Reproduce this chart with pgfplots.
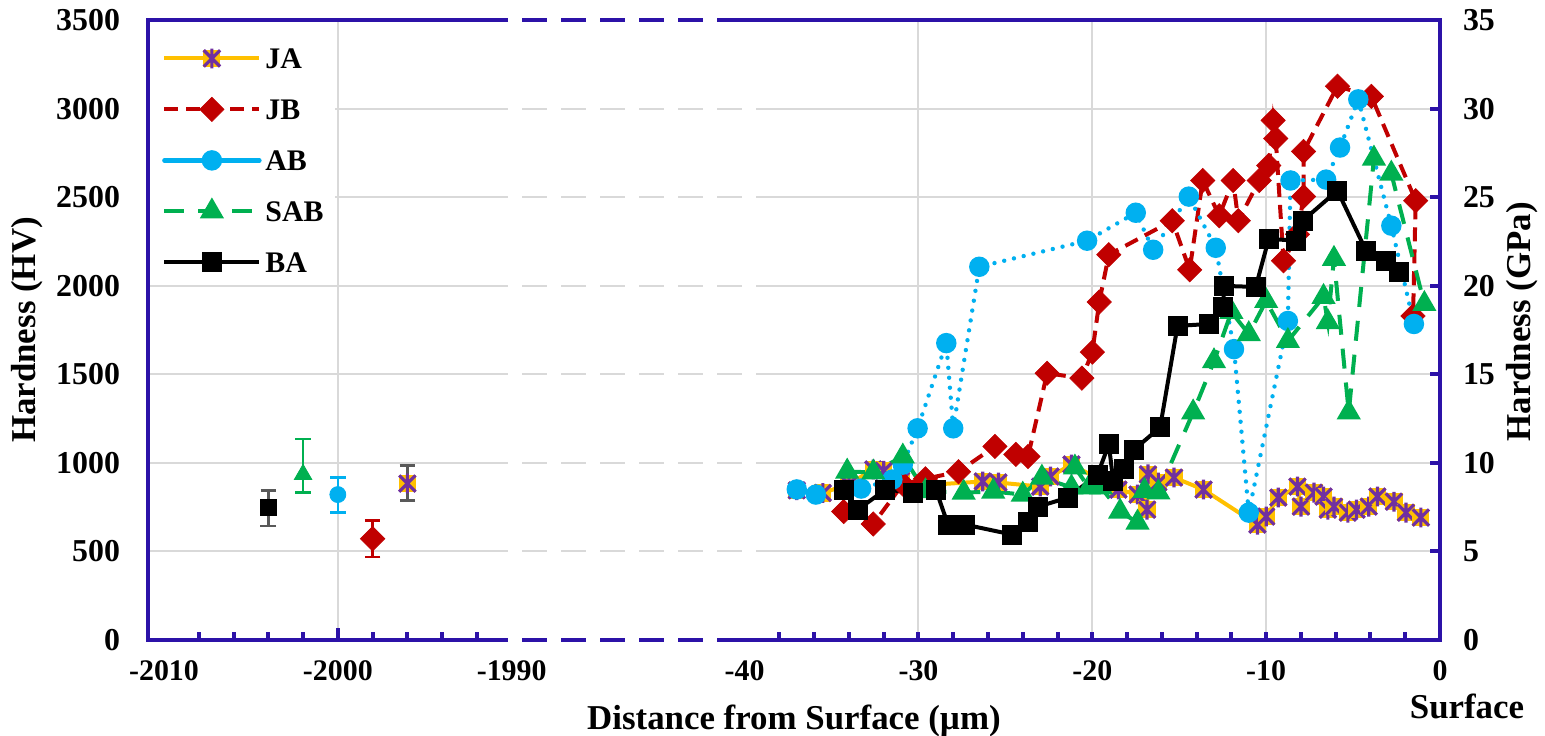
\documentclass[border=0pt]{standalone}
\usepackage{fontspec}
\setmainfont{Liberation Serif}
\usepackage{pgfplots}
\pgfplotsset{compat=1.18}
\definecolor{frameblue}{RGB}{44,18,168}
\definecolor{jayel}{RGB}{255,192,0}
\definecolor{japur}{RGB}{112,48,160}
\definecolor{jbred}{RGB}{192,0,0}
\definecolor{abblue}{RGB}{0,176,240}
\definecolor{sabgreen}{RGB}{0,176,80}
\definecolor{gridgray}{RGB}{217,217,217}
\definecolor{errgray}{RGB}{89,89,89}
\pgfdeclareplotmark{sqast}{%
 \pgfpathrectangle{\pgfqpoint{-\pgfplotmarksize}{-\pgfplotmarksize}}{\pgfqpoint{2\pgfplotmarksize}{2\pgfplotmarksize}}%
 \pgfsetfillcolor{jayel}\pgfusepathqfill
 \pgfsetstrokecolor{japur}\pgfsetlinewidth{1.6bp}%
 \pgfpathmoveto{\pgfqpoint{0pt}{-1.15\pgfplotmarksize}}\pgfpathlineto{\pgfqpoint{0pt}{1.15\pgfplotmarksize}}%
 \pgfpathmoveto{\pgfqpoint{-.95\pgfplotmarksize}{-.95\pgfplotmarksize}}\pgfpathlineto{\pgfqpoint{.95\pgfplotmarksize}{.95\pgfplotmarksize}}%
 \pgfpathmoveto{\pgfqpoint{-.95\pgfplotmarksize}{.95\pgfplotmarksize}}\pgfpathlineto{\pgfqpoint{.95\pgfplotmarksize}{-.95\pgfplotmarksize}}%
 \pgfusepathqstroke
}
\pgfplotsset{
 mylegimg/.style={legend image code/.code={\path[draw=none,fill=none] (0bp,-4bp) rectangle (47.5bp,4bp);
   \draw[mark repeat=2,mark phase=2,##1,overlay] plot coordinates {(0bp,0bp) (23.75bp,0bp) (47.5bp,0bp)};}},
 sollegimg/.style={legend image code/.code={\path[draw=none,fill=none] (0bp,-4bp) rectangle (47.5bp,4bp);
   \draw[mark repeat=2,mark phase=2,##1,solid,overlay] plot coordinates {(0bp,0bp) (23.75bp,0bp) (47.5bp,0bp)};}},
 leftpt/.style={forget plot, x filter/.expression={x+1936.6},
   error bars/.cd, y dir=both, y explicit,
   error bar style={line width=1.2bp, solid, color=#1},
   error mark options={rotate=90, mark size=3.9bp, line width=1.2bp, color=#1}},
}
\newcommand{\xtickfont}{\bfseries\fontsize{15}{16}\selectfont}
\newcommand{\ytickfont}{\bfseries\fontsize{16}{17}\selectfont}
\newcommand{\labfont}{\bfseries\fontsize{17.5}{20}\selectfont}
\begin{document}
\begin{tikzpicture}
\begin{axis}[
 at={(74bp,48bp)}, anchor=south west, scale only axis, width=646bp, height=310bp,
 xmin=-74.32, xmax=0, ymin=0, ymax=3500, clip=false,
 axis line style={draw=none},
 xtick={-73.4,-63.4,-53.4,-40,-30,-20,-10,0},
 xticklabels={-2010,-2000,-1990,-40,-30,-20,-10,0},
 ytick={0,500,...,3500},
 tick style={draw=none},
 /pgf/number format/assume math mode=true,
 /pgf/number format/1000 sep={},
 xticklabel style={font=\xtickfont, yshift=-7bp},
 yticklabel style={font=\ytickfont, xshift=-10.5bp},
 mylegimg,
 legend style={at={([yshift=-5bp]axis description cs:0,1)}, anchor=north west, draw=none, fill=none,
   font=\bfseries\fontsize{15}{15}\selectfont, inner xsep=8bp, inner ysep=8bp,
   row sep=13.5bp, cells={anchor=west},
   nodes={text height=10bp, text depth=0bp, inner ysep=1bp, inner xsep=3bp}},
 legend cell align=left,
]
% grid
\pgfplotsinvokeforeach{500,1000,1500,2000,2500,3000}{
 \draw[gridgray, line width=1bp] (axis cs:-74.32,#1) -- (axis cs:-53.6,#1);
 \draw[gridgray, line width=1bp, dash pattern=on 12.5bp off 7bp, dash phase=12.5bp] (axis cs:-53.6,#1) -- (axis cs:-38.9,#1);
 \draw[gridgray, line width=1bp] (axis cs:-38.9,#1) -- (axis cs:0,#1);
}
\pgfplotsinvokeforeach{-63.4,-30,-20,-10}{
 \draw[gridgray, line width=1bp] (axis cs:#1,0) -- (axis cs:#1,3500);
}
% legend background
\fill[white] (rel axis cs:0,1) rectangle (rel axis cs:0.1447,0.574);
% JA
\addplot[jayel, line width=2bp, mark=sqast, mark size=4.3bp, mark options={solid}] coordinates {
(-37.0,845) (-35.5,830) (-34.0,880) (-32.6,963) (-32.0,955) (-31.0,900) (-29.5,875)
(-26.3,895) (-25.4,889) (-23.0,866) (-22.4,923) (-21.2,991) (-18.5,849) (-17.4,821)
(-16.85,736) (-16.8,935) (-16.2,889) (-15.3,917) (-13.6,849) (-10.5,651) (-10.0,697)
(-9.3,804) (-8.2,866) (-8.0,753) (-7.25,832) (-6.7,810) (-6.45,736) (-6.1,753)
(-5.3,719) (-4.8,736) (-4.1,753) (-3.6,810) (-2.65,781) (-1.96,719) (-1.1,691)};
\addlegendentry{JA}
% JB
\addplot[jbred, line width=2bp, dash pattern=on 7bp off 4bp, mark=square*, mark size=4.3bp,
  mark options={solid, rotate=45, fill=jbred, draw=jbred, line width=0.3bp}] coordinates {
(-34.3,725) (-32.6,655) (-30.9,880) (-29.6,910) (-27.7,950) (-25.6,1093) (-24.4,1048)
(-23.7,1036) (-22.6,1506) (-20.6,1478) (-20.0,1625) (-19.6,1908) (-19.05,2175)
(-15.4,2367) (-14.4,2090) (-13.65,2594) (-12.7,2395) (-11.9,2594) (-11.6,2367)
(-10.4,2594) (-9.85,2679) (-9.6,2933) (-9.45,2831) (-9.0,2141) (-8.2,2290)
(-7.85,2503) (-7.85,2758) (-5.9,3126) (-3.95,3069) (-1.4,2480) (-1.55,1829)};
\addlegendentry{JB}
% AB
\addplot[abblue, line width=2.2bp, line cap=round, dash pattern=on 0bp off 5bp, mark=*, mark size=4bp,
  mark options={solid, fill=abblue, draw=abblue}, sollegimg] coordinates {
(-37.0,850) (-35.9,821) (-33.3,855) (-31.5,906) (-30.9,990) (-30.05,1195) (-28.4,1676)
(-28.0,1195) (-26.5,2107) (-20.3,2254) (-17.5,2412) (-16.5,2203) (-14.45,2503)
(-12.9,2214) (-11.85,1642) (-11.0,719) (-8.75,1801) (-8.6,2594) (-6.55,2599)
(-5.75,2780) (-4.7,3052) (-2.8,2339) (-1.5,1784)};
\addlegendentry{AB}
% SAB
\addplot[sabgreen, line width=2bp, dash pattern=on 10bp off 7bp, mark=triangle*, mark size=5bp,
  mark options={solid, fill=sabgreen, draw=sabgreen}] coordinates {
(-34.1,951) (-32.6,946) (-30.9,1036) (-29.6,840) (-27.4,832) (-25.7,838) (-24.0,821)
(-22.9,917) (-21.2,861) (-21.0,974) (-20.2,861) (-19.5,861) (-18.4,725) (-17.4,663)
(-17.0,842) (-16.2,833) (-14.2,1285) (-13.0,1574) (-12.0,1852) (-11.0,1727)
(-10.0,1914) (-8.75,1688) (-6.7,1937) (-6.45,1795) (-6.1,2152) (-5.25,1285)
(-3.8,2718) (-2.8,2633) (-0.9,1897)};
\addlegendentry{SAB}
% BA
\addplot[black, line width=2bp, mark=square*, mark size=4bp, mark options={solid}] coordinates {
(-34.3,849) (-33.5,735) (-31.9,849) (-30.3,832) (-29.0,849) (-28.3,651) (-27.3,651)
(-24.6,595) (-23.7,668) (-23.1,753) (-21.4,804) (-19.7,934) (-19.05,1104) (-18.8,900)
(-18.2,963) (-17.6,1075) (-16.1,1200) (-15.1,1773) (-13.3,1784) (-12.5,1880)
(-12.4,1999) (-10.6,1993) (-9.85,2265) (-8.3,2254) (-7.9,2367) (-5.9,2537)
(-4.25,2197) (-3.1,2141) (-2.35,2078)};
\addlegendentry{BA}
% left segment points with error bars
\addplot[only marks, mark=square*, mark size=4bp, black, leftpt=errgray] coordinates {(-2004,747) += (0,98) -= (0,102)};
\addplot[only marks, mark=triangle*, mark size=5bp, sabgreen, leftpt=sabgreen] coordinates {(-2002,935) += (0,198) -= (0,103)};
\addplot[only marks, mark=*, mark size=4bp, abblue, leftpt=abblue] coordinates {(-2000,821) += (0,96) -= (0,102)};
\addplot[only marks, mark=square*, mark size=4.3bp, mark options={rotate=45}, jbred, leftpt=jbred] coordinates {(-1998,572) += (0,102) -= (0,102)};
\addplot[only marks, mark=sqast, mark size=4.3bp, leftpt=errgray] coordinates {(-1996,883) += (0,102) -= (0,96)};
% labels
\node[rotate=90, font=\labfont] at ([xshift=-60.5bp]rel axis cs:0,0.5) {Hardness (HV)};
\node[rotate=90, font=\labfont] at ([xshift=41bp]rel axis cs:1,0.513) {Hardness (GPa)};
\node[font=\labfont] at ([yshift=-40.5bp]rel axis cs:0.5,0) {Distance from Surface (µm)};
\node[font=\labfont] at ([xshift=13.5bp,yshift=-33bp]rel axis cs:1,0) {Surface};
\end{axis}
\begin{axis}[
 at={(74bp,48bp)}, anchor=south west, scale only axis, width=646bp, height=310bp,
 xmin=-74.32, xmax=0, ymin=0, ymax=35, clip=false,
 axis x line=none, axis y line*=right, axis line style={draw=none},
 ytick={0,5,...,35}, tick align=inside, major tick length=5bp,
 ytick style={frameblue, line width=2bp},
 /pgf/number format/assume math mode=true,
 yticklabel style={font=\ytickfont, xshift=8bp},
]
\addplot[draw=none, forget plot] coordinates {(-1,1)};
% frame
\draw[frameblue, line width=2.2bp] (axis cs:-53.6,35) -- (axis cs:-74.32,35) -- (axis cs:-74.32,0) -- (axis cs:-53.6,0);
\draw[frameblue, line width=2.2bp] (axis cs:-41.5,35) -- (axis cs:0,35) -- (axis cs:0,0) -- (axis cs:-41.5,0);
\draw[frameblue, line width=2.2bp, dash pattern=on 12.5bp off 7bp, dash phase=12.5bp] (axis cs:-53.6,35) -- (axis cs:-41.5,35);
\draw[frameblue, line width=2.2bp, dash pattern=on 12.5bp off 7bp, dash phase=12.5bp] (axis cs:-53.6,0) -- (axis cs:-41.5,0);
\pgfplotsinvokeforeach{-71.4,-69.4,-67.4,-65.4,-61.4,-59.4,-57.4,-55.4,-38,-36,-34,-32,-30,-28,-26,-24,-22,-20,-18,-16,-14,-12,-10,-8,-6,-4,-2}{
 \draw[frameblue, line width=2bp] (axis cs:#1,0) -- ([yshift=4bp]axis cs:#1,0);
}
\draw[frameblue, line width=2bp] (axis cs:-63.4,0) -- ([yshift=6bp]axis cs:-63.4,0);
\end{axis}
\pgfresetboundingbox
\useasboundingbox (0,0) rectangle (772.5bp,368bp);
\end{tikzpicture}
\end{document}
